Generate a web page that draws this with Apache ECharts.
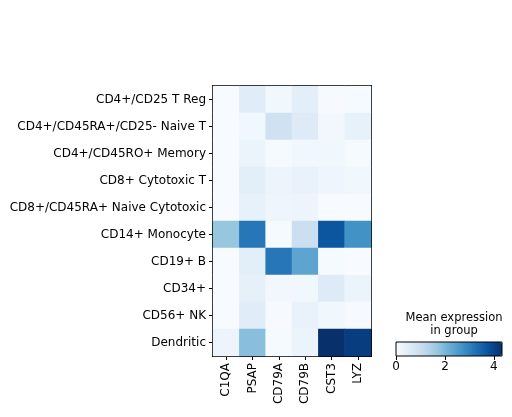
<!DOCTYPE html>
<html>
<head>
<meta charset="utf-8">
<script src="https://cdn.jsdelivr.net/npm/echarts@6/dist/echarts.min.js"></script>
<style>
  html, body { margin: 0; padding: 0; background: #fff; }
  #chart { width: 512px; height: 417px; }
</style>
</head>
<body>
<div id="chart"></div>
<script>
var genes = ['C1QA', 'PSAP', 'CD79A', 'CD79B', 'CST3', 'LYZ'];

var cellTypes = [
    'CD4+/CD25 T Reg',
    'CD4+/CD45RA+/CD25- Naive T',
    'CD4+/CD45RO+ Memory',
    'CD8+ Cytotoxic T',
    'CD8+/CD45RA+ Naive Cytotoxic',
    'CD14+ Monocyte',
    'CD19+ B',
    'CD34+',
    'CD56+ NK',
    'Dendritic'
];

// mean expression per cell type, one row per cell type, columns follow genes
var tReg       = [0.0, 0.50, 0.15, 0.45, 0.02, 0.05];
var naiveT     = [0.0, 0.15, 0.85, 0.55, 0.12, 0.35];
var memory     = [0.0, 0.25, 0.05, 0.15, 0.15, 0.05];
var cytotoxicT = [0.0, 0.45, 0.22, 0.30, 0.20, 0.15];
var naiveCyto  = [0.0, 0.35, 0.20, 0.22, 0.0, 0.0];
var monocyte   = [1.70, 3.15, 0.05, 0.95, 3.70, 2.70];
var bCell      = [0.0, 0.45, 3.15, 2.35, 0.05, 0.0];
var cd34       = [0.0, 0.38, 0.12, 0.15, 0.55, 0.25];
var nk         = [0.0, 0.50, 0.02, 0.30, 0.15, 0.02];
var dendritic  = [0.22, 1.85, 0.05, 0.25, 4.33, 4.10];

var rows = [tReg, naiveT, memory, cytotoxicT, naiveCyto, monocyte, bCell, cd34, nk, dendritic];
var maxValue = 4.33;
var colorTicks = [0, 2, 4];

var blues = ['#f7fbff', '#deebf7', '#c6dbef', '#9ecae1', '#6baed6',
             '#4292c6', '#2171b5', '#08519c', '#08306b'];

var heatData = [];
for (var r = 0; r < rows.length; r++) {
    for (var c = 0; c < genes.length; c++) {
        heatData.push([c, r, rows[r][c]]);
    }
}

var chart = echarts.init(document.getElementById('chart'));

var font = 'DejaVu Sans';

var option = {
    animation: false,
    textStyle: { fontFamily: font },
    title: {
        text: 'Mean expression\nin group',
        left: 449,
        top: 307,
        textAlign: 'center',
        textStyle: {
            fontFamily: font,
            fontSize: 11.5,
            fontWeight: 'normal',
            color: '#000',
            lineHeight: 13
        }
    },
    grid: [
        { left: 213, top: 86, width: 158, height: 270,
          show: true, borderColor: '#000', borderWidth: 2, backgroundColor: 'transparent' },
        { left: 396, top: 342, width: 106, height: 14,
          show: true, borderColor: '#000', borderWidth: 1, backgroundColor: 'transparent', z: 5 }
    ],
    xAxis: [
        {
            type: 'category',
            data: genes,
            gridIndex: 0,
            position: 'bottom',
            axisLine: { show: false },
            axisTick: { show: true, alignWithLabel: true, length: 4, lineStyle: { color: '#000' } },
            axisLabel: { rotate: 90, color: '#000', fontSize: 12, fontFamily: font, margin: 7 },
            splitLine: { show: false }
        },
        {
            type: 'value',
            gridIndex: 1,
            min: 0,
            max: maxValue,
            interval: 2,
            axisLine: { show: false },
            axisTick: { show: true, length: 4, lineStyle: { color: '#000' } },
            axisLabel: {
                color: '#000', fontSize: 12, fontFamily: font, margin: 5,
                showMaxLabel: false,
                formatter: function (v) { return colorTicks.indexOf(v) >= 0 ? String(v) : ''; }
            },
            splitLine: { show: false }
        }
    ],
    yAxis: [
        {
            type: 'category',
            data: cellTypes,
            gridIndex: 0,
            inverse: true,
            axisLine: { show: false },
            axisTick: { show: true, alignWithLabel: true, length: 4, lineStyle: { color: '#000' } },
            axisLabel: { color: '#000', fontSize: 12, fontFamily: font, margin: 7 },
            splitLine: { show: false }
        },
        {
            type: 'value',
            gridIndex: 1,
            show: false,
            min: 0,
            max: 1
        }
    ],
    visualMap: {
        type: 'continuous',
        min: 0,
        max: maxValue,
        orient: 'horizontal',
        left: 396,
        top: 342,
        padding: 0,
        itemWidth: 14,
        itemHeight: 106,
        calculable: false,
        showLabel: false,
        text: null,
        seriesIndex: 0,
        inRange: { color: blues }
    },
    series: [
        {
            type: 'heatmap',
            xAxisIndex: 0,
            yAxisIndex: 0,
            data: heatData,
            itemStyle: { borderWidth: 0 },
            emphasis: { disabled: true }
        },
        {
            type: 'scatter',
            xAxisIndex: 1,
            yAxisIndex: 1,
            data: []
        }
    ]
};

chart.setOption(option);
</script>
</body>
</html>
